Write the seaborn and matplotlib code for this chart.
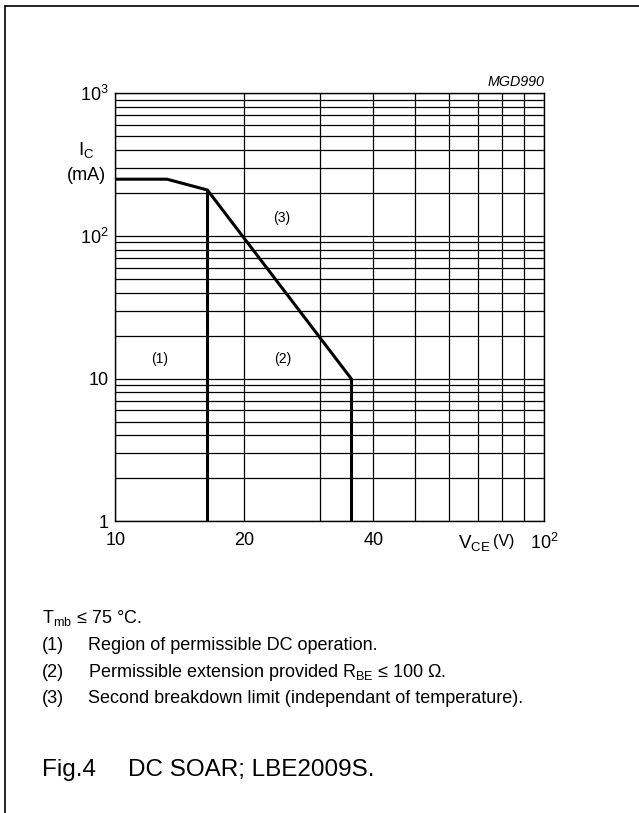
import matplotlib
matplotlib.use("Agg")
import matplotlib.pyplot as plt
from matplotlib.lines import Line2D
import seaborn as sns
import pandas as pd

# ---- data ----
envelope_vce = [10, 13.2, 16.4, 35.5]
envelope_ic = [250, 250, 210, 10]
limit1_vce = [16.4, 16.4]
limit1_ic = [210, 1]
limit2_vce = [35.5, 35.5]
limit2_ic = [10, 1]

x_major = [10, 20, 40, 100]
x_major_labels = ["10", "20", "40", r"$\mathregular{10^2}$"]
x_minor = [30, 50, 60, 70, 80, 90]
y_major = [1, 10, 100, 1000]
y_major_labels = ["1", "10", r"$\mathregular{10^2}$", r"$\mathregular{10^3}$"]
y_minor = [m * d for d in (1, 10, 100) for m in range(2, 10)]

region_labels = ["(1)", "(2)", "(3)"]
region_x = [12.7, 24.6, 24.5]
region_y = [13.8, 13.8, 134]

note_condition = r"$\mathregular{T_{mb}}$ ≤ 75 °C."
note_keys = ["(1)", "(2)", "(3)"]
note_texts = [
    "Region of permissible DC operation.",
    r"Permissible extension provided $\mathregular{R_{BE}}$ ≤ 100 Ω.",
    "Second breakdown limit (independant of temperature).",
]
caption_key = "Fig.4"
caption_text = "DC SOAR; LBE2009S."

sns.set_style("white")
plt.rcParams["font.family"] = ["Liberation Sans", "DejaVu Sans"]
plt.rcParams["mathtext.fontset"] = "custom"
plt.rcParams["mathtext.rm"] = "Liberation Sans"
plt.rcParams["mathtext.it"] = "Liberation Sans:italic"
plt.rcParams["mathtext.bf"] = "Liberation Sans:bold"
plt.rcParams["text.color"] = "black"
plt.rcParams["xtick.color"] = "black"
plt.rcParams["ytick.color"] = "black"
plt.rcParams["axes.labelcolor"] = "black"

W, H = 639, 813
fig = plt.figure(figsize=(W / 100, H / 100), dpi=100)


def fx(x):
    return x / W


def fy(y):
    return 1 - y / H


L, R, T, B = 115.3, 544.0, 93.3, 521.3
ax = fig.add_axes([fx(L), fy(B), fx(R - L), (B - T) / H])

df = pd.DataFrame({
    "vce": envelope_vce + limit1_vce + limit2_vce,
    "ic": envelope_ic + limit1_ic + limit2_ic,
    "seg": ["env"] * len(envelope_vce) + ["l1"] * 2 + ["l2"] * 2,
})
sns.lineplot(data=df, x="vce", y="ic", units="seg", estimator=None, sort=False,
             color="black", linewidth=2.2, ax=ax, zorder=5)

ax.set_xscale("log")
ax.set_yscale("log")
ax.set_xlim(10, 100)
ax.set_ylim(1, 1000)
ax.set_xticks(x_major, labels=x_major_labels)
ax.set_xticks(x_minor, minor=True)
ax.set_xticklabels([], minor=True)
ax.set_yticks(y_major, labels=y_major_labels)
ax.set_yticks(y_minor, minor=True)
ax.set_yticklabels([], minor=True)
ax.tick_params(which="both", length=0)
ax.tick_params(axis="x", pad=8, labelsize=13, labelcolor="black")
ax.tick_params(axis="y", pad=5, labelsize=13, labelcolor="black")
ax.grid(True, which="both", color="black", linewidth=0.9)
ax.set_axisbelow(True)
ax.set_xlabel("")
ax.set_ylabel("")
for s in ax.spines.values():
    s.set_color("black")
    s.set_linewidth(1.0)

for lab, x, y in zip(region_labels, region_x, region_y):
    ax.text(x, y, lab, ha="center", va="center", fontsize=10, color="black")

# axis titles
fig.text(fx(86), fy(150), r"$\mathregular{I_C}$", ha="center", va="center", fontsize=13.5)
fig.text(fx(86), fy(176), "(mA)", ha="center", va="center", fontsize=13)
fig.text(fx(490), fy(548), r"$\mathregular{V_{CE}}$", ha="right", va="baseline", fontsize=13.5)
fig.text(fx(493), fy(546), "(V)", ha="left", va="baseline", fontsize=11.5)
fig.text(fx(544), fy(86), "MGD990", ha="right", va="baseline", fontsize=10.3, style="italic")

# notes
fig.text(fx(42), fy(623), note_condition, ha="left", va="baseline", fontsize=13)
for k, t, y in zip(note_keys, note_texts, [650, 677, 703]):
    fig.text(fx(42), fy(y), k, ha="left", va="baseline", fontsize=13)
    fig.text(fx(88), fy(y), t, ha="left", va="baseline", fontsize=13)
fig.text(fx(42), fy(776), caption_key, ha="left", va="baseline", fontsize=17.5)
fig.text(fx(128), fy(776), caption_text, ha="left", va="baseline", fontsize=17.5)

# frame lines
fig.add_artist(Line2D([fx(4.5), fx(4.5)], [fy(6), fy(H)], color="black", linewidth=1.2))
fig.add_artist(Line2D([fx(4.5), fx(W)], [fy(6), fy(6)], color="black", linewidth=1.2))

fig.savefig("out.png", dpi=100)
